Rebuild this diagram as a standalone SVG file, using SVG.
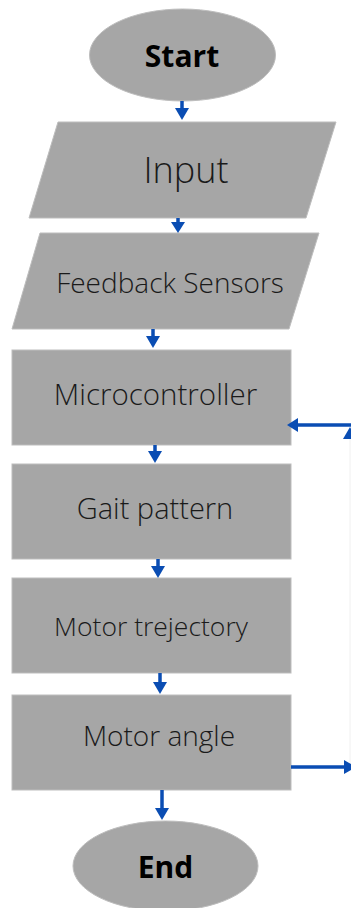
<svg xmlns="http://www.w3.org/2000/svg" width="351" height="908" viewBox="0 0 351 908">
<style>
.s{fill:#a6a6a6;stroke:#bdbdbd;stroke-width:1}
.t{font-family:"Open Sans","Liberation Sans",sans-serif;font-weight:300;fill:#1a1a1a;text-anchor:middle}
.b{font-family:"Open Sans","Liberation Sans",sans-serif;font-weight:700;fill:#000;text-anchor:middle;font-size:30px}
.c{stroke:#0a4db3;stroke-width:3.5;fill:none}
.h{fill:#0a4db3}
</style>
<rect width="351" height="908" fill="#fff"/>
<g id="start"><ellipse class="s" cx="182.5" cy="55" rx="93" ry="46"/><text class="b" x="182" y="67">Start</text></g>
<g id="input"><polygon class="s" points="58,122 336,122 306,218 29,218"/><text class="t" x="186" y="183" font-size="36">Input</text></g>
<g id="feedback"><polygon class="s" points="40,233 319,233 289,329 12,329"/><text class="t" x="170" y="293" font-size="28">Feedback Sensors</text></g>
<g id="micro"><rect class="s" x="12" y="350" width="279" height="95"/><text class="t" x="155.5" y="405" font-size="29.5">Microcontroller</text></g>
<g id="gait"><rect class="s" x="12" y="464" width="279" height="95"/><text class="t" x="155" y="519" font-size="29">Gait pattern</text></g>
<g id="traj"><rect class="s" x="12" y="578" width="279" height="95"/><text class="t" x="151" y="636" font-size="26.5">Motor trejectory</text></g>
<g id="angle"><rect class="s" x="12" y="695" width="279" height="95"/><text class="t" x="159" y="746" font-size="28">Motor angle</text></g>
<g id="end"><ellipse class="s" cx="165.5" cy="866" rx="92.5" ry="45"/><text class="b" x="165.5" y="878">End</text></g>
<g id="connectors">
<line class="c" x1="182" y1="101" x2="182" y2="110"/><polygon class="h" points="175,108 189,108 182,120"/>
<line class="c" x1="178" y1="218" x2="178" y2="224"/><polygon class="h" points="171,222 185,222 178,233"/>
<line class="c" x1="153" y1="329" x2="153" y2="338"/><polygon class="h" points="146,336 160,336 153,348"/>
<line class="c" x1="155" y1="445" x2="155" y2="454"/><polygon class="h" points="148,451 162,451 155,463"/>
<line class="c" x1="158" y1="559" x2="158" y2="568"/><polygon class="h" points="151,566 165,566 158,578"/>
<line class="c" x1="160" y1="673" x2="160" y2="684"/><polygon class="h" points="153,682 167,682 160,694"/>
<line class="c" x1="162" y1="790" x2="162" y2="810"/><polygon class="h" points="155,808 169,808 162,820"/>
<line class="c" x1="351" y1="425" x2="296" y2="425"/><polygon class="h" points="298,418 298,432 287,425"/>
<line x1="350" y1="432" x2="350" y2="767" stroke="#f0f0f0" stroke-width="1"/>
<polygon class="h" points="343,439 357,439 350,427"/>
<line class="c" x1="291" y1="767" x2="346" y2="767"/><polygon class="h" points="344,760 344,774 356,767"/>
</g>
</svg>
